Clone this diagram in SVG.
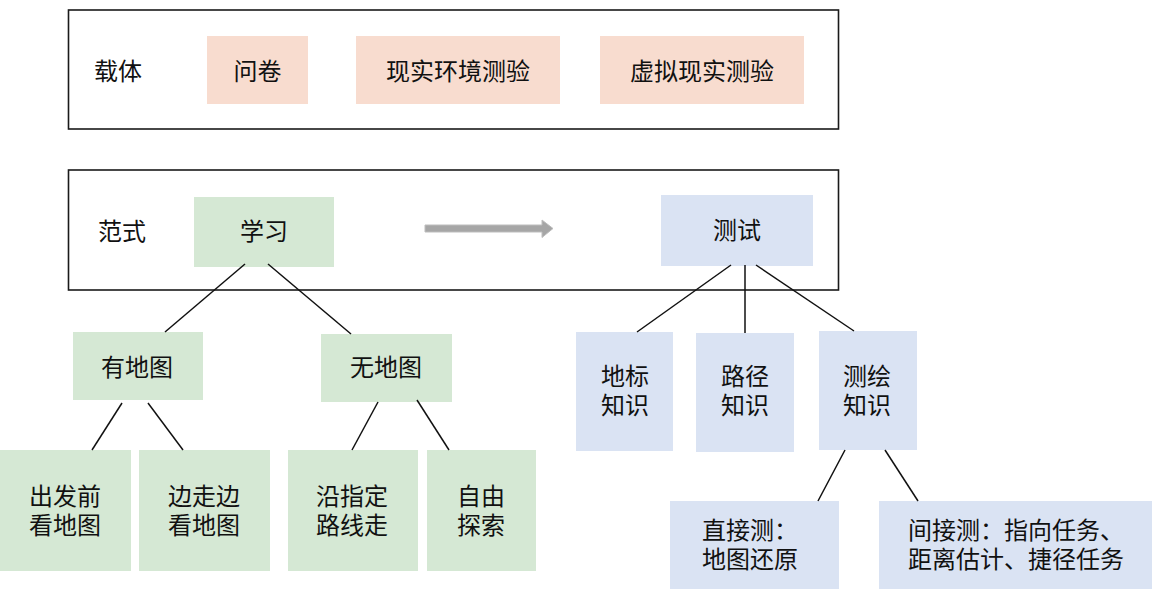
<svg xmlns="http://www.w3.org/2000/svg" width="1152" height="591" viewBox="0 0 1152 591">
<style>
  text { font-family: "Liberation Serif", "Noto Sans CJK SC", serif; font-size: 24px; fill: #111; }
  .c { text-anchor: middle; }
  .frame { fill: none; stroke: #1a1a1a; stroke-width: 1.6; }
  .peach { fill: #F8DCCF; }
  .green { fill: #D5E8D4; }
  .blue { fill: #DAE3F3; }
  .conn line { stroke: #111; stroke-width: 1.5; }
</style>
<rect width="1152" height="591" fill="#ffffff"/>

<g id="carrier-frame">
  <rect class="frame" x="68.5" y="10" width="770" height="119"/>
  <text x="94" y="80">载体</text>
</g>
<g id="wenjuan"><rect class="peach" x="207" y="36" width="101" height="68"/><text class="c" x="257.5" y="80">问卷</text></g>
<g id="xianshi"><rect class="peach" x="356" y="36" width="204" height="68"/><text class="c" x="458" y="80">现实环境测验</text></g>
<g id="xuni"><rect class="peach" x="600" y="36" width="204" height="68"/><text class="c" x="702" y="80">虚拟现实测验</text></g>

<g id="paradigm-frame">
  <rect class="frame" x="68.5" y="170" width="770" height="120"/>
  <text x="98" y="240">范式</text>
</g>
<g id="xuexi"><rect class="green" x="194" y="197" width="140" height="70"/><text class="c" x="264" y="240">学习</text></g>
<g id="ceshi"><rect class="blue" x="661" y="195" width="152" height="71"/><text class="c" x="737" y="239">测试</text></g>

<g id="you-ditu"><rect class="green" x="73" y="332" width="130" height="68"/><text class="c" x="137" y="376">有地图</text></g>
<g id="wu-ditu"><rect class="green" x="321" y="334" width="131" height="68"/><text class="c" x="386" y="376">无地图</text></g>
<g id="chufaqian"><rect class="green" x="0" y="450" width="131" height="121"/><text class="c" x="65" y="505">出发前</text><text class="c" x="65" y="534">看地图</text></g>
<g id="bianzoubian"><rect class="green" x="139" y="450" width="131" height="121"/><text class="c" x="204" y="505">边走边</text><text class="c" x="204" y="534">看地图</text></g>
<g id="yanzhiding"><rect class="green" x="288" y="450" width="130" height="121"/><text class="c" x="352" y="505">沿指定</text><text class="c" x="352" y="534">路线走</text></g>
<g id="ziyou"><rect class="green" x="427" y="450" width="109" height="121"/><text class="c" x="481" y="505">自由</text><text class="c" x="481" y="534">探索</text></g>

<g id="dibiao"><rect class="blue" x="576" y="332" width="97" height="119"/><text class="c" x="625" y="385">地标</text><text class="c" x="625" y="414">知识</text></g>
<g id="lujing"><rect class="blue" x="696" y="333" width="98" height="119"/><text class="c" x="745" y="385">路径</text><text class="c" x="745" y="414">知识</text></g>
<g id="cehui"><rect class="blue" x="819" y="331" width="98" height="119"/><text class="c" x="867" y="385">测绘</text><text class="c" x="867" y="414">知识</text></g>
<g id="zhijie"><rect class="blue" x="670" y="501" width="169" height="88"/><text x="702" y="539">直接测：</text><text x="702" y="568">地图还原</text></g>
<g id="jianjie"><rect class="blue" x="879" y="501" width="273" height="88"/><text x="908" y="539">间接测：指向任务、</text><text x="908" y="568">距离估计、捷径任务</text></g>

<g id="connectors" class="conn">
  <line x1="245" y1="264" x2="165" y2="332"/>
  <line x1="268" y1="264" x2="351" y2="334"/>
  <line x1="122" y1="403" x2="92" y2="450"/>
  <line x1="148" y1="403" x2="183" y2="450"/>
  <line x1="378" y1="402" x2="352" y2="450"/>
  <line x1="417" y1="400" x2="449" y2="450"/>
  <line x1="731" y1="265" x2="637" y2="332"/>
  <line x1="745" y1="265" x2="745" y2="333"/>
  <line x1="756" y1="265" x2="854" y2="331"/>
  <line x1="845" y1="450" x2="818" y2="501"/>
  <line x1="885" y1="450" x2="918" y2="501"/>
  <path d="M425,225 L542,225 L542,220 L553,228.5 L542,237.5 L542,232 L425,232 Z" fill="#A6A6A6" stroke="#BDBDBD" stroke-width="1"/>
</g>
</svg>
